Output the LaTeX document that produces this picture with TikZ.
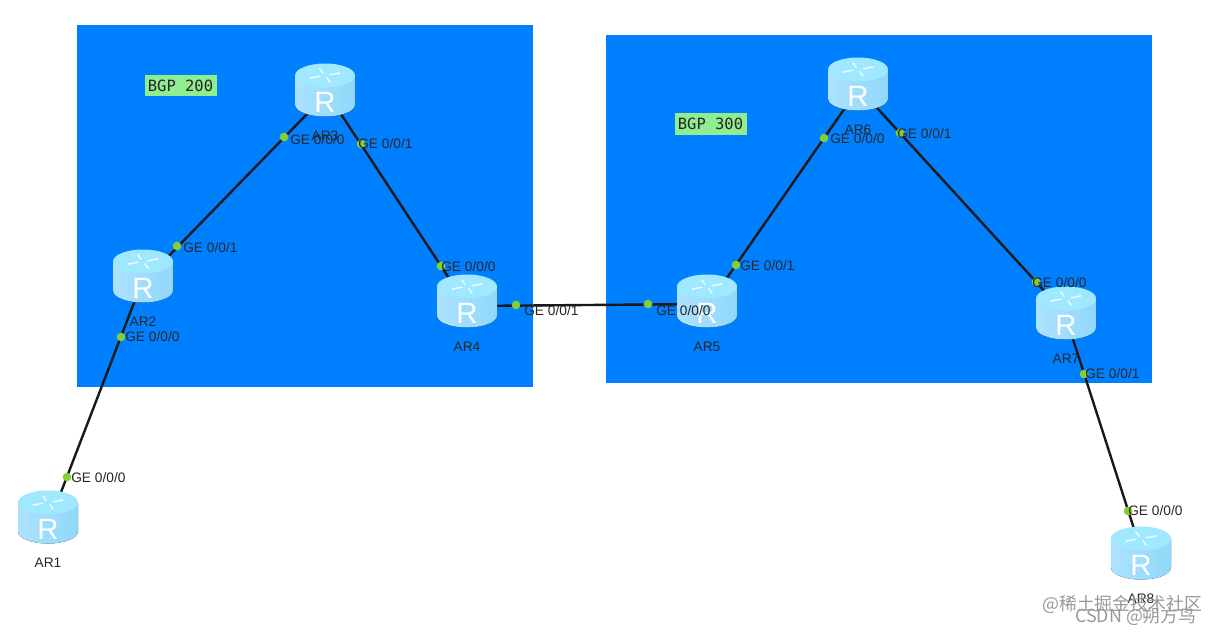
\documentclass[tikz,border=0pt]{standalone}
\usepackage{fontspec}
\setmainfont{Liberation Sans}
\setmonofont{DejaVu Sans Mono}
\newfontfamily\cjkfont{Noto Sans CJK SC}
\usetikzlibrary{arrows.meta}
\definecolor{areablue}{HTML}{0080FF}
\definecolor{taggreen}{HTML}{90EE90}
\definecolor{portgreen}{HTML}{84CF34}
\definecolor{bodyedge}{HTML}{ACE2FF}
\definecolor{bodymid}{HTML}{78CCFF}
\definecolor{bodyright}{HTML}{90D8FA}
\definecolor{routertop}{HTML}{A0E8FF}
\tikzset{
  area/.style={fill=areablue,draw=none},
  bgptag/.style={fill=taggreen,inner sep=0pt,minimum width=54pt,minimum height=16pt,font=\ttfamily\fontsize{11.6}{12}\selectfont,text=black!85},
  rletter/.style={white,font=\fontsize{22}{22}\selectfont,inner sep=0pt},
  arname/.style={font=\fontsize{10.3}{12}\selectfont,text=black!85},
  link/.style={draw=black!90,line width=1.8pt},
  portdot/.style={circle,fill=portgreen,inner sep=0pt,minimum size=6.5pt},
  portname/.style={font=\fontsize{10.3}{12}\selectfont,text=black!85,inner sep=0pt,anchor=west},
  wmark/.style={text=black!40,font=\cjkfont\fontsize{13.4}{14}\selectfont,inner sep=0pt,anchor=west},
  pics/routericon/.style={code={
    \begin{scope}[x=0.75pt,y=0.75pt]
      \fill[left color=bodyedge,middle color=bodymid,right color=bodyright]
        (-30,14.5) -- (-30,-14.5) arc (180:360:30 and 12) -- (30,14.5) -- cycle;
      \fill[routertop] (0,14.5) ellipse (30 and 12);
      \foreach \a in {20,110,200,290}
        \draw[white!85!routertop,line width=1pt,-{Stealth[length=2.5pt]}]
          (\a:5 and 2) ++(0,14.5) -- ++(\a:12 and 6);
      \node[rletter] (-r) at (0,-12) {R};
    \end{scope}
  }}
}
\begin{document}
\begin{tikzpicture}[x=0.75pt,y=-0.75pt]
\useasboundingbox (0,0) rectangle (1221,633);
\fill[area] (77,25) rectangle (533,387);
\fill[area] (606,35) rectangle (1152,383);
\node[bgptag] (bgp200) at (180.5,85.5) {BGP 200};
\node[bgptag] (bgp300) at (710.5,124) {BGP 300};

\foreach \n/\x/\y in {ar1/48/517,ar2/143/276,ar3/325/90,ar4/467/301,
  ar5/707/301,ar6/858/84,ar7/1066/313,ar8/1141/553}
  \coordinate (\n) at (\x,\y);

% links run under the routers
\draw[link] ([shift={(10,-17)}]ar1) -- ([shift={(-6,19)}]ar2);
\draw[link] ([shift={(17,-11)}]ar2) -- ([shift={(-17,23)}]ar3);
\draw[link] ([shift={(10,15)}]ar3) -- ([shift={(-13.5,-16)}]ar4);
\draw[link] ([shift={(0,5)}]ar4) -- ([shift={(0,3)}]ar5);
\draw[link] ([shift={(15,-16)}]ar5) -- ([shift={(-11,21)}]ar6);
\draw[link] ([shift={(16.4,21)}]ar6) -- ([shift={(-18,-18)}]ar7);
\draw[link] ([shift={(4,17)}]ar7) -- ([shift={(-5,-18)}]ar8);

% routers
\foreach \n/\t in {ar1/AR1,ar2/AR2,ar3/AR3,ar4/AR4,ar5/AR5,ar6/AR6,ar7/AR7,ar8/AR8}{
  \pic (\n) at (\n) {routericon};
  \node[arname] (\n name) at ([yshift=-34.2pt]\n) {\t};
}

% ports
\foreach \n/\x/\y/\lx/\ly/\t in {
  p1/67/477/71/478/0,p2/121/337/125/337/0,p3/177/246/183/248/1,p4/284/137/290/140/0,
  p5/361/144/358/144/1,p6/441/266/441/267/0,p7/516/305/524/311/1,p8/648/304/656/311/0,
  p9/736/265/740/266/1,p10/824/138/830/139/0,p11/900/133/897/134/1,p12/1036/282/1032/283/0,
  p13/1084/374/1085/374/1,p14/1128/511/1128/511/0}{
  \node[portdot] (\n) at (\x,\y) {};
  \node[portname] (\n name) at (\lx,\ly) {GE 0/0/\t};
}

\node[wmark] (wm1) at (1042,604) {@稀土掘金技术社区};
\node[wmark] (wm2) at (1075,616) {CSDN @朔方鸟};
\end{tikzpicture}
\end{document}
